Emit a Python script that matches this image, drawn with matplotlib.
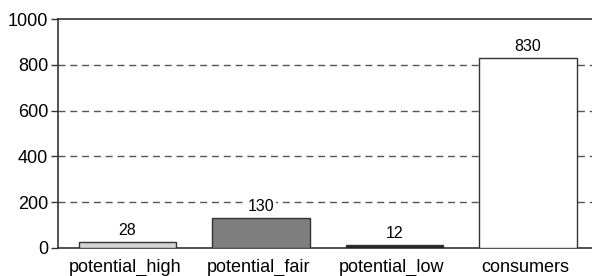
import numpy as np
import matplotlib.pyplot as plt

plt.rcParams['font.family'] = ['Liberation Sans', 'DejaVu Sans']

categories = ['potential_high', 'potential_fair', 'potential_low', 'consumers']
values = [28, 130, 12, 830]
colors = ['#d4d4d4', '#7e7e7e', '#222222', '#ffffff']

fig = plt.figure(figsize=(5.92, 2.76), dpi=100)
ax = fig.add_axes([58 / 592, 28 / 276, 534 / 592, 229 / 276])

x = np.arange(len(categories))
bars = ax.bar(x + 0.02, values, width=0.73, color=colors, edgecolor='#333333', linewidth=1.0, zorder=3)
for b, v in zip(bars, values):
    ax.text(b.get_x() + b.get_width() / 2, v + 17, str(v), ha='center', va='bottom', fontsize=11.5, zorder=4,
            bbox=dict(facecolor='white', edgecolor='none', pad=1.5))

ax.set_xlim(-0.5, 3.5)
ax.set_ylim(0, 1000)
ax.set_yticks([0, 200, 400, 600, 800, 1000])
ax.set_xticks(x)
ax.set_xticklabels(categories, fontsize=13)
ax.tick_params(axis='y', labelsize=13, length=5, width=1, color='#333333', pad=2)
ax.tick_params(axis='x', length=0, pad=8)
for yv in [200, 400, 600, 800]:
    ax.axhline(yv, color='#555555', linestyle=(0, (5, 3.5)), linewidth=1.0, zorder=1)

ax.spines['right'].set_visible(False)
for s in ['left', 'top', 'bottom']:
    ax.spines[s].set_color('#333333')
    ax.spines[s].set_linewidth(1.2)

fig.savefig('out.png', dpi=100)
